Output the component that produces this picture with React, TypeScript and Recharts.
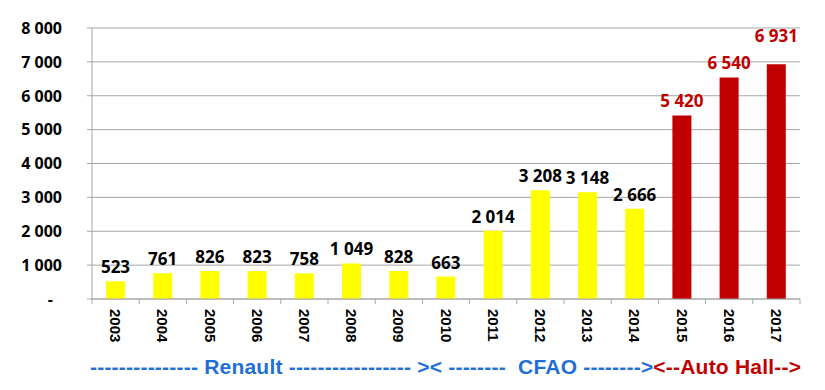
import { BarChart, Bar, XAxis, YAxis, CartesianGrid, Cell, LabelList } from 'recharts';

// Vehicle sales by year, distributor periods
const years = ['2003', '2004', '2005', '2006', '2007', '2008', '2009', '2010', '2011', '2012', '2013', '2014', '2015', '2016', '2017'];
const sales = [523, 761, 826, 823, 758, 1049, 828, 663, 2014, 3208, 3148, 2666, 5420, 6540, 6931];
const distributor = ['Renault', 'Renault', 'Renault', 'Renault', 'Renault', 'Renault', 'Renault', 'Renault', 'CFAO', 'CFAO', 'CFAO', 'CFAO', 'Auto Hall', 'Auto Hall', 'Auto Hall'];
const yTicks = [0, 1000, 2000, 3000, 4000, 5000, 6000, 7000, 8000];

const data = years.map((year, i) => ({ year, sales: sales[i], distributor: distributor[i] }));

const RED = '#C00000';
const YELLOW = '#FFFF00';
const BLUE = '#1F6FD6';
const GRID = '#A6A6A6';

const fmt = (v: number) => (v === 0 ? '-' : v.toString().replace(/\B(?=(\d{3})+(?!\d))/g, ' '));

const YTick = (props: any) => {
  const { x, y, payload } = props;
  const v = payload.value as number;
  return (
    <text x={x} y={y} dx={v === 0 ? -9 : 0} dy="0.36em" textAnchor="end"
      fontFamily="Open Sans" fontWeight="bold" fontSize={16} fill="#000">
      {fmt(v)}
    </text>
  );
};

const XTick = (props: any) => {
  const { x, y, payload, index } = props;
  const half = payload.offset || 23.6;
  const last = index === years.length - 1;
  return (
    <g>
      <line x1={x - half} x2={x - half} y1={y} y2={y + 5} stroke={GRID} />
      {last && <line x1={x + half} x2={x + half} y1={y} y2={y + 5} stroke={GRID} />}
      <text transform={`translate(${x},${y + 10}) rotate(90)`} textAnchor="start" dy="0.36em"
        fontFamily="Liberation Sans" fontWeight="bold" fontSize={15} fill="#000">
        {payload.value}
      </text>
    </g>
  );
};

const BarLabel = (props: any) => {
  const { x, y, width, value, index } = props;
  const color = distributor[index] === 'Auto Hall' ? RED : '#000';
  // last label sits higher in the original, clear of the 7 000 gridline
  const gap = index === years.length - 1 ? 22 : 8;
  return (
    <text x={x + width / 2} y={y - gap} textAnchor="middle"
      fontFamily="Open Sans" fontWeight="bold" fontSize={17} fill={color}>
      {fmt(value)}
    </text>
  );
};

export default function App() {
  return (
    <div style={{ position: 'absolute', left: 0, top: 0, width: 825, height: 390, background: '#fff' }}>
      <BarChart width={825} height={390} data={data}
        margin={{ top: 28, right: 25, left: 0, bottom: 0 }} barSize={19}>
        <CartesianGrid vertical={false} stroke={GRID} />
        <XAxis dataKey="year" height={91} interval={0} tickSize={0} tickMargin={0}
          axisLine={{ stroke: GRID }} tick={<XTick />} />
        <YAxis domain={[0, 8000]} ticks={yTicks} width={92} interval={0}
          tickSize={5} tickMargin={25} axisLine={{ stroke: GRID }} tickLine={{ stroke: GRID }}
          tick={<YTick />} />
        <Bar dataKey="sales" isAnimationActive={false}>
          {data.map((d, i) => (
            <Cell key={i} fill={d.distributor === 'Auto Hall' ? RED : YELLOW} />
          ))}
          <LabelList dataKey="sales" content={<BarLabel />} />
        </Bar>
      </BarChart>
      <svg width={825} height={390} style={{ position: 'absolute', left: 0, top: 0, pointerEvents: 'none' }}>
        <text x={90} y={374} textLength={711} lengthAdjust="spacing"
          fontFamily="Liberation Sans" fontWeight="bold" fontSize={21} style={{ whiteSpace: 'pre' }}>
          <tspan fill={BLUE}>{'--------------- Renault ----------------- >< --------  CFAO -------->'}</tspan>
          <tspan fill={RED}>{'<--Auto Hall-->'}</tspan>
        </text>
      </svg>
    </div>
  );
}
